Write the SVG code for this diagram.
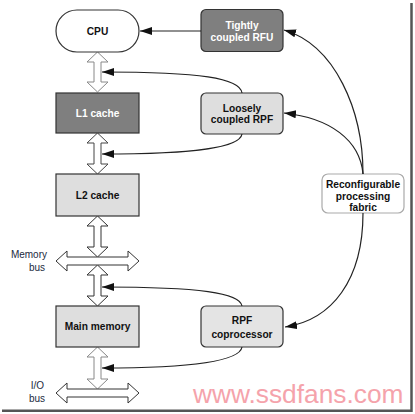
<svg xmlns="http://www.w3.org/2000/svg" width="415" height="414" viewBox="0 0 415 414">
<style>
.box{stroke:#333;stroke-width:1.2}
.dark{fill:#7f7f7f}
.light{fill:#dedede}
.t{font-family:"Liberation Sans",Arial,sans-serif;font-size:10.2px;font-weight:bold;text-anchor:middle;fill:#111}
.tw{fill:#fff}
.lbl{font-family:"Liberation Sans",Arial,sans-serif;font-size:10px;text-anchor:end;fill:#222a40}
.da{fill:#fff;stroke:#444;stroke-width:1}
.con{fill:none;stroke:#222;stroke-width:1.2;marker-end:url(#ah)}
</style>
<defs>
<marker id="ah" markerUnits="userSpaceOnUse" markerWidth="14" markerHeight="10" refX="12" refY="4" orient="auto">
<path d="M0,0 L12,4 L0,8 Z" fill="#111"/>
</marker>
</defs>
<rect width="415" height="414" fill="#fff"/>
<g id="frame">
<line x1="411.5" y1="3" x2="411.5" y2="412" stroke="#555" stroke-width="2.5"/>
<line x1="2" y1="410.8" x2="412" y2="410.8" stroke="#555" stroke-width="2.5"/>
</g>
<g id="bus-arrows">
<polygon class="da" style="stroke:#888" points="97.5,52 108,62 101,62 101,82 108,82 97.5,92 87,82 94,82 94,62 87,62"/>
<polygon class="da" points="97.5,133 108,143 101,143 101,164 108,164 97.5,174 87,164 94,164 94,143 87,143"/>
<polygon class="da" style="stroke:#333" points="97.5,216 108,226 101,226 101,247 108,247 97.5,257 87,247 94,247 94,226 87,226"/>
<polygon class="da" style="stroke:#333" points="97.5,265 108,275 101,275 101,296 108,296 97.5,306 87,296 94,296 94,275 87,275"/>
<polygon class="da" style="stroke:#888" points="97.5,347 108,357 101,357 101,379 108,379 97.5,389 87,379 94,379 94,357 87,357"/>
</g>
<g id="memory-bus">
<polygon class="da" style="stroke:#333" points="56,261 67,251 67,257 128,257 128,251 139,261 128,271 128,265 67,265 67,271"/>
<text class="lbl" x="47" y="257.5">Memory</text>
<text class="lbl" x="45" y="270.5">bus</text>
</g>
<g id="io-bus">
<polygon class="da" style="stroke:#333" points="56,393 67,383 67,389 128,389 128,383 139,393 128,403 128,397 67,397 67,403"/>
<text class="lbl" x="44" y="389">I/O</text>
<text class="lbl" x="45" y="402">bus</text>
</g>
<g id="cpu">
<rect class="box" x="56" y="10" width="83" height="42" rx="21" fill="#fff"/>
<text class="t" x="97.5" y="34.5">CPU</text>
</g>
<g id="l1">
<rect class="box dark" x="56" y="93" width="83" height="40"/>
<text class="t tw" x="97.5" y="116.5">L1 cache</text>
</g>
<g id="l2">
<rect class="box light" x="56" y="174" width="83" height="42"/>
<text class="t" x="97.5" y="198.5">L2 cache</text>
</g>
<g id="mainmem">
<rect class="box light" x="56" y="306" width="83" height="41"/>
<text class="t" x="97.5" y="330">Main memory</text>
</g>
<g id="rfu">
<rect class="box dark" x="201" y="9.5" width="82" height="42" rx="5"/>
<text class="t tw" x="242" y="29">Tightly</text>
<text class="t tw" x="242" y="40.5">coupled RFU</text>
</g>
<g id="rpf">
<rect class="box light" x="201" y="93" width="82" height="41" rx="5"/>
<text class="t" x="242" y="111.5">Loosely</text>
<text class="t" x="242" y="123">coupled RPF</text>
</g>
<g id="fabric">
<rect x="322" y="174" width="82" height="39" rx="6" fill="#fff" stroke="#aaa" stroke-width="1.2"/>
<text class="t" x="363" y="188">Reconfigurable</text>
<text class="t" x="363" y="199.5">processing</text>
<text class="t" x="363" y="211">fabric</text>
</g>
<g id="coproc">
<rect class="box" x="201" y="306" width="82" height="41" rx="5" fill="#e4e4e4"/>
<text class="t" x="242" y="323.5">RPF</text>
<text class="t" x="242" y="337.5">coprocessor</text>
</g>
<g id="connectors">
<path class="con" d="M201,31 L140,31"/>
<path class="con" d="M363,174 C363,110 335,45 284,30"/>
<path class="con" d="M363,174 C360,140 330,118 284,113"/>
<path class="con" d="M363,213 C363,280 332,320 285,327"/>
<path class="con" d="M242,93 C240,78 200,72 102,72"/>
<path class="con" d="M242,134 C240,147 200,154 102,154"/>
<path class="con" d="M242,306 C240,293 200,287 102,287"/>
<path class="con" d="M242,347 C240,360 200,368 102,368"/>
</g>
<text x="193" y="403" font-family="'Liberation Sans',Arial,sans-serif" font-size="26.3" fill="#f5a3ab">www.ssdfans.com</text>
</svg>
